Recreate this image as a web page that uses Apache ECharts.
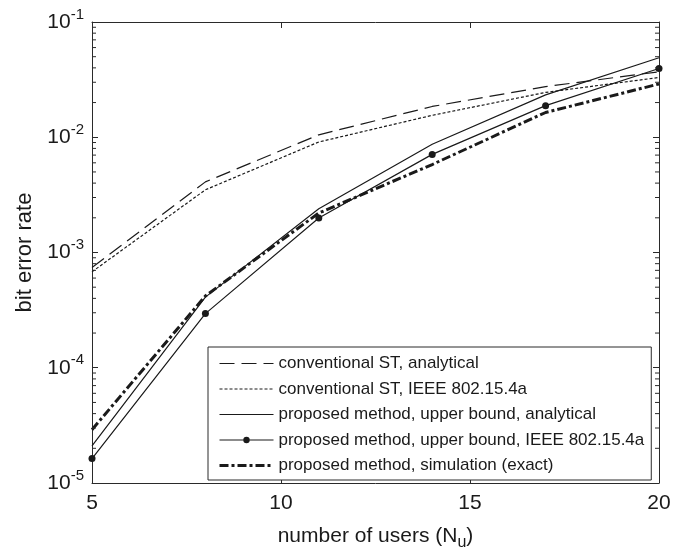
<!DOCTYPE html>
<html>
<head>
<meta charset="utf-8">
<style>
  html, body { margin: 0; padding: 0; background: #fff; }
  #chart { width: 688px; height: 556px; }
</style>
<script src="https://cdn.jsdelivr.net/npm/echarts@6/dist/echarts.min.js"></script>
</head>
<body>
<div id="chart"></div>
<script>
// Number of users
const users = [5, 8, 11, 14, 17, 20];

// Bit error rate curves
const convAnalytical = [7.4e-4, 4.1e-3, 1.05e-2, 1.85e-2, 2.75e-2, 3.7e-2];
const convIeee       = [6.8e-4, 3.5e-3, 9.1e-3, 1.55e-2, 2.45e-2, 3.3e-2];
const propAnalytical = [2.1e-5, 4.1e-4, 2.4e-3, 8.7e-3, 2.33e-2, 4.9e-2];
const propIeee       = [1.63e-5, 2.95e-4, 1.99e-3, 7.1e-3, 1.88e-2, 3.95e-2];
const propSimulation = [2.9e-5, 4.2e-4, 2.2e-3, 5.8e-3, 1.64e-2, 2.9e-2];

const seriesNames = [
  'conventional ST, analytical',
  'conventional ST, IEEE 802.15.4a',
  'proposed method, upper bound, analytical',
  'proposed method, upper bound, IEEE 802.15.4a',
  'proposed method, simulation (exact)'
];

const xTicks = [5, 10, 15, 20];
const yMin = 1e-5, yMax = 1e-1;

// log-axis minor tick values: 2..9 x 10^n
const minorValues = [];
for (let n = -5; n <= -2; n++) {
  for (let k = 2; k <= 9; k++) minorValues.push(k * Math.pow(10, n));
}

const INK = '#1a1a1a';
const FRAME = '#2a2a2a';
const FONT = '"Liberation Sans", Arial, Helvetica, sans-serif';

// per-series line look: width and dash pattern
const lineWidths = [1.2, 1.2, 1.2, 1.2, 3];
const lineDashes = [[15, 7], [3, 2], 'solid', 'solid', [9, 3, 3, 3]];

function pairs(ys) { return users.map((x, i) => [x, ys[i]]); }

const chart = echarts.init(document.getElementById('chart'), null, { renderer: 'canvas' });

const axisLineStyle = { show: true, lineStyle: { color: FRAME, width: 1 } };
const majorTick = { show: true, inside: true, length: 6, lineStyle: { color: FRAME } };

const curves = [convAnalytical, convIeee, propAnalytical, propIeee, propSimulation];

const lineSeries = curves.map((ys, i) => ({
  name: seriesNames[i], type: 'line', data: pairs(ys),
  symbol: i === 3 ? 'circle' : 'none',
  symbolSize: 7,
  showSymbol: i === 3,
  z: i === 3 ? 4 : 3,
  itemStyle: { color: INK },
  lineStyle: { color: INK, width: lineWidths[i], type: lineDashes[i] }
}));

const option = {
  backgroundColor: '#fff',
  animation: false,
  textStyle: { fontFamily: FONT },
  grid: { left: 92, right: 29, top: 22, bottom: 66, containLabel: false },
  xAxis: [
    {
      type: 'value', min: xTicks[0], max: xTicks[xTicks.length - 1], interval: 5, position: 'bottom',
      name: 'number of users (N{sub|u})',
      nameLocation: 'middle', nameGap: 39,
      nameTextStyle: {
        color: INK, fontSize: 21, fontFamily: FONT,
        rich: { sub: { fontSize: 16, fontFamily: FONT, color: INK, padding: [13, 0, 0, 0] } }
      },
      axisLine: axisLineStyle,
      axisTick: majorTick,
      axisLabel: { color: INK, fontSize: 21, fontFamily: FONT, margin: 10 },
      splitLine: { show: false }
    },
    {
      type: 'value', min: xTicks[0], max: xTicks[xTicks.length - 1], interval: 5, position: 'top',
      axisLine: axisLineStyle,
      axisTick: majorTick,
      axisLabel: { show: false },
      splitLine: { show: false }
    }
  ],
  yAxis: [
    {
      type: 'log', logBase: 10, min: yMin, max: yMax, position: 'left',
      name: 'bit error rate', nameLocation: 'middle', nameGap: 56, nameRotate: 90,
      nameTextStyle: { color: INK, fontSize: 22, fontFamily: FONT },
      axisLine: axisLineStyle,
      axisTick: majorTick,
      axisLabel: {
        margin: 8,
        formatter: function (v) {
          const e = Math.round(Math.log10(v));
          return '{b|10}{s|' + e + '}';
        },
        rich: {
          b: { fontSize: 21, color: INK, fontFamily: FONT },
          s: { fontSize: 15, color: INK, fontFamily: FONT, padding: [0, 0, 15, 0] }
        }
      },
      splitLine: { show: false }
    },
    {
      type: 'log', logBase: 10, min: yMin, max: yMax, position: 'right',
      axisLine: axisLineStyle,
      axisTick: majorTick,
      axisLabel: { show: false },
      splitLine: { show: false }
    }
  ],
  legend: {
    orient: 'vertical',
    left: 208, top: 347,
    data: seriesNames.map((name, i) => ({
      name,
      itemStyle: i === 3 ? { color: INK } : { opacity: 0 },
      lineStyle: { width: lineWidths[i] }
    })),
    backgroundColor: '#fff',
    borderColor: FRAME, borderWidth: 1, borderRadius: 0,
    padding: [8, 7, 6, 10],
    itemWidth: 54, itemHeight: 8, itemGap: 8.5,
    textStyle: { color: INK, fontSize: 17, fontFamily: FONT },
    selectedMode: false
  },
  series: lineSeries.concat([
    {
      // minor ticks of the log axis on both vertical sides
      type: 'custom', silent: true, z: 5, clip: false,
      data: minorValues.map(v => [v]),
      renderItem: function (params, api) {
        const v = api.value(0);
        const l = api.coord([xTicks[0], v]);
        const r = api.coord([xTicks[xTicks.length - 1], v]);
        return {
          type: 'group',
          children: [
            { type: 'line', shape: { x1: l[0], y1: l[1], x2: l[0] + 4, y2: l[1] }, style: { stroke: FRAME, lineWidth: 1 } },
            { type: 'line', shape: { x1: r[0], y1: r[1], x2: r[0] - 4, y2: r[1] }, style: { stroke: FRAME, lineWidth: 1 } }
          ]
        };
      },
      encode: { y: 0 }
    }
  ])
};

chart.setOption(option);
</script>
</body>
</html>
